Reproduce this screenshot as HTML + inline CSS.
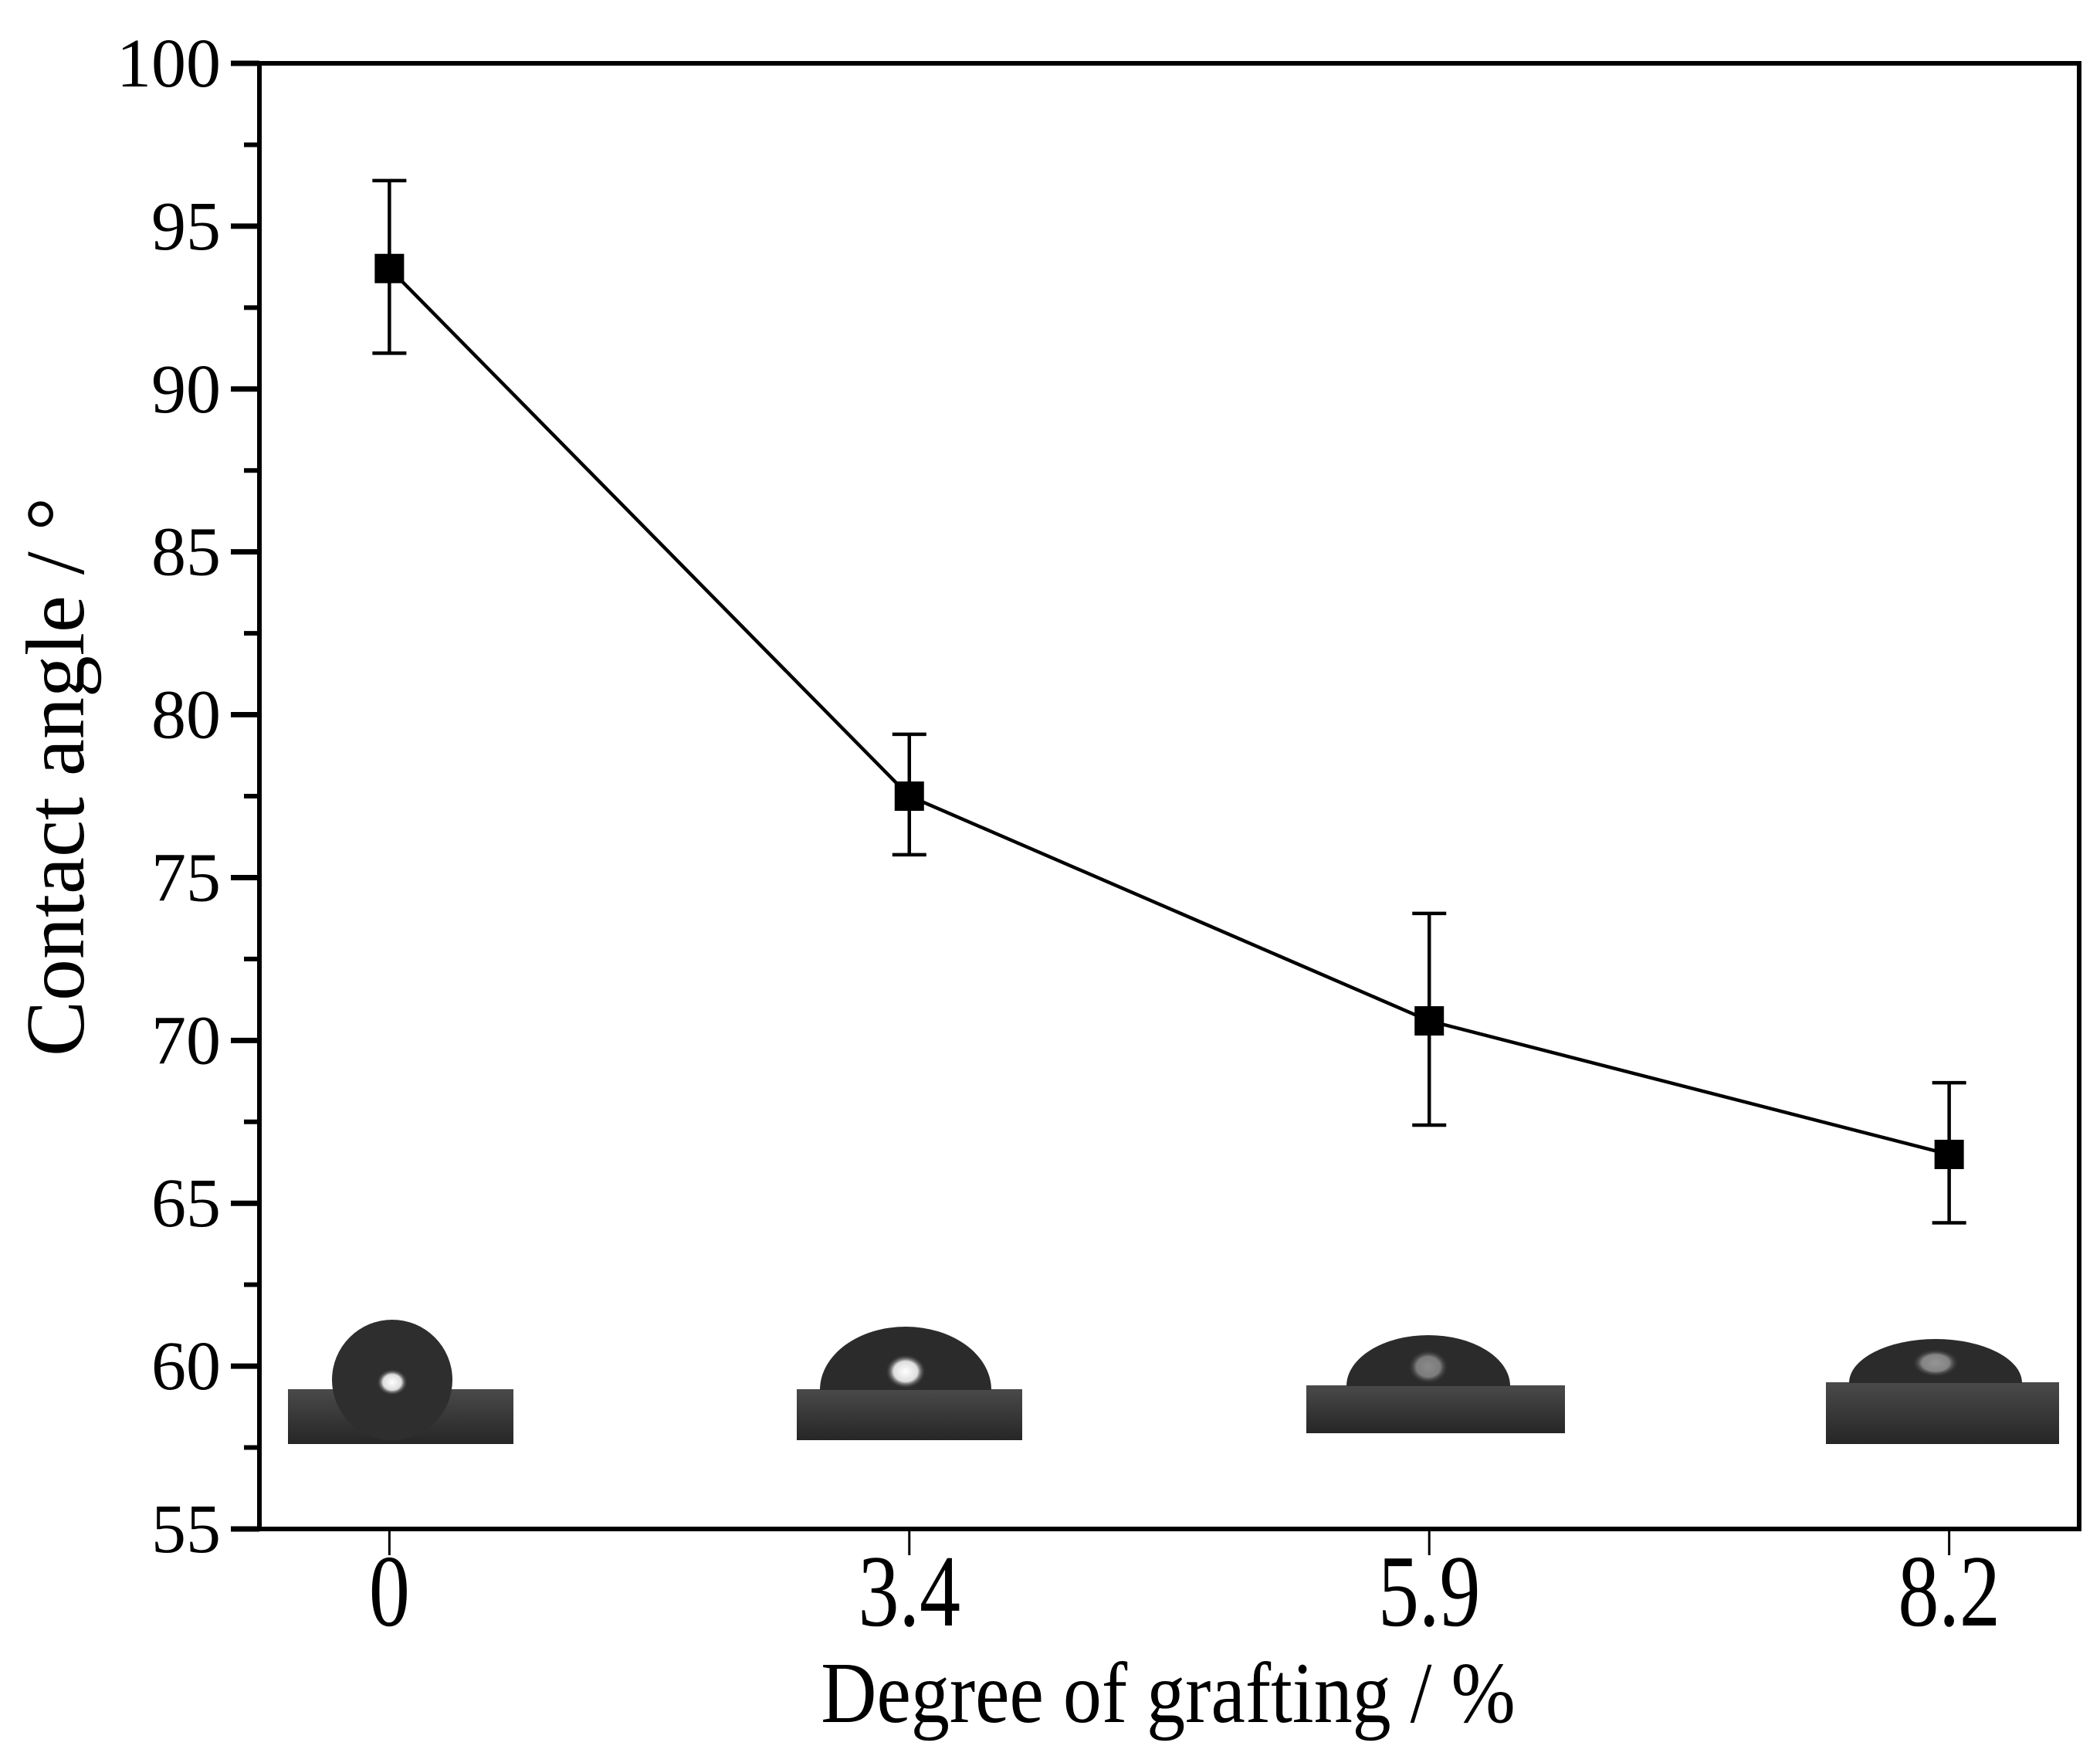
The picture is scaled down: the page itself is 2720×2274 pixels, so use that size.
<!DOCTYPE html>
<html><head><meta charset="utf-8"><style>
html,body{margin:0;padding:0;background:#fff;}
svg{display:block;font-family:"Liberation Serif",serif;}
</style></head><body>
<svg id="chart" width="2720" height="2274" viewBox="0 0 2720 2274" xmlns="http://www.w3.org/2000/svg">
<defs>
<linearGradient id="sub" x1="0" y1="0" x2="0" y2="1"><stop offset="0" stop-color="#4a4a4a"/><stop offset="1" stop-color="#262626"/></linearGradient>
<radialGradient id="hl" cx="0.5" cy="0.5" r="0.5"><stop offset="0" stop-color="#fff"/><stop offset="0.6" stop-color="#ddd"/><stop offset="1" stop-color="#333" stop-opacity="0"/></radialGradient>
</defs>
<g id="drops">
  <g>
    <rect x="373" y="1799" width="292" height="71" fill="url(#sub)"/>
    <circle cx="508" cy="1787" r="78" fill="#2e2e2e"/>
    <ellipse cx="508" cy="1790" rx="20" ry="17" fill="url(#hl)"/>
  </g>
  <g>
    <rect x="1032" y="1799" width="292" height="66" fill="url(#sub)"/>
    <path d="M1062,1800 A111,82 0 0 1 1284,1800 Z" fill="#2b2b2b"/>
    <ellipse cx="1173" cy="1776" rx="26" ry="22" fill="url(#hl)"/>
  </g>
  <g>
    <rect x="1692" y="1794" width="335" height="62" fill="url(#sub)"/>
    <path d="M1744,1795 A106,66 0 0 1 1956,1795 Z" fill="#2b2b2b"/>
    <ellipse cx="1850" cy="1770" rx="26" ry="22" fill="url(#hl)" opacity="0.45"/>
  </g>
  <g>
    <rect x="2365" y="1790" width="302" height="80" fill="url(#sub)"/>
    <path d="M2395,1791 A112,57 0 0 1 2619,1791 Z" fill="#2b2b2b"/>
    <ellipse cx="2507" cy="1765" rx="30" ry="18" fill="url(#hl)" opacity="0.5"/>
  </g>
</g>
<g id="axes"></g>
<g id="series"></g>
<text x="1513" y="2230" font-size="100" text-anchor="middle" transform="translate(1513,2230) scale(1,1.12) translate(-1513,-2230)">Degree of grafting / %</text>
<text x="0" y="0" font-size="108" text-anchor="middle" transform="translate(108,1006) rotate(-90)">Contact angle / °</text>
</svg>
<script>
const categories = ["0", "3.4", "5.9", "8.2"];
const values = [93.7, 77.5, 70.6, 66.5];
const errUpper = [96.4, 79.4, 73.9, 68.7];
const errLower = [91.1, 75.7, 67.4, 64.4];
const yTicks = [55, 60, 65, 70, 75, 80, 85, 90, 95, 100];

const NS = "http://www.w3.org/2000/svg";
const L = 336, R = 2693, T = 82, B = 1980;
const yMin = 55, yMax = 100;
const xs = i => L + (i + 0.25) / 3.5 * (R - L);
const ys = v => B - (v - yMin) / (yMax - yMin) * (B - T);
function mk(tag, attrs, parent) {
  const e = document.createElementNS(NS, tag);
  for (const k in attrs) e.setAttribute(k, attrs[k]);
  parent.appendChild(e);
  return e;
}
const axes = document.getElementById("axes");
const series = document.getElementById("series");

const frame = mk("rect", {x: L, y: T, width: R - L, height: B - T, fill: "none", stroke: "#000", "stroke-width": 6}, axes);



yTicks.forEach((v, i) => {
  const y = ys(v);
  const t = mk("line", {x1: L - 37, x2: L, y1: y, y2: y, stroke: "#000", "stroke-width": 7}, axes);
  
  
  const lb = mk("text", {x: 286, y: y + 30, "font-size": 90, "text-anchor": "end"}, axes);
  lb.textContent = v;
  
  
  if (i < yTicks.length - 1) {
    const ym = ys(v + 2.5);
    const m = mk("line", {x1: L - 20, x2: L, y1: ym, y2: ym, stroke: "#000", "stroke-width": 6}, axes);
    
    
  }
});
categories.forEach((c, i) => {
  const x = xs(i);
  const t = mk("line", {x1: x, x2: x, y1: B, y2: B + 34, stroke: "#000", "stroke-width": 3}, axes);
  
  
  const lb = mk("text", {x: x, y: 2105, "font-size": 106, "text-anchor": "middle", transform: `translate(${x},2105) scale(1,1.25) translate(${-x},-2105)`}, axes);
  lb.textContent = c;
  
  
});

const line = mk("polyline", {points: values.map((v, i) => xs(i) + "," + ys(v)).join(" "), fill: "none", stroke: "#000", "stroke-width": 4.5}, series);



values.forEach((v, i) => {
  const x = xs(i);
  const g = mk("g", {}, series);
  
  
  mk("line", {x1: x, x2: x, y1: ys(errUpper[i]), y2: ys(errLower[i]), stroke: "#000", "stroke-width": 4.5}, g);
  mk("line", {x1: x - 22, x2: x + 22, y1: ys(errUpper[i]), y2: ys(errUpper[i]), stroke: "#000", "stroke-width": 4.5}, g);
  mk("line", {x1: x - 22, x2: x + 22, y1: ys(errLower[i]), y2: ys(errLower[i]), stroke: "#000", "stroke-width": 4.5}, g);
  const p = mk("rect", {x: x - 19, y: ys(v) - 19, width: 38, height: 38, fill: "#000"}, series);
  
  
});
</script>
</body></html>
